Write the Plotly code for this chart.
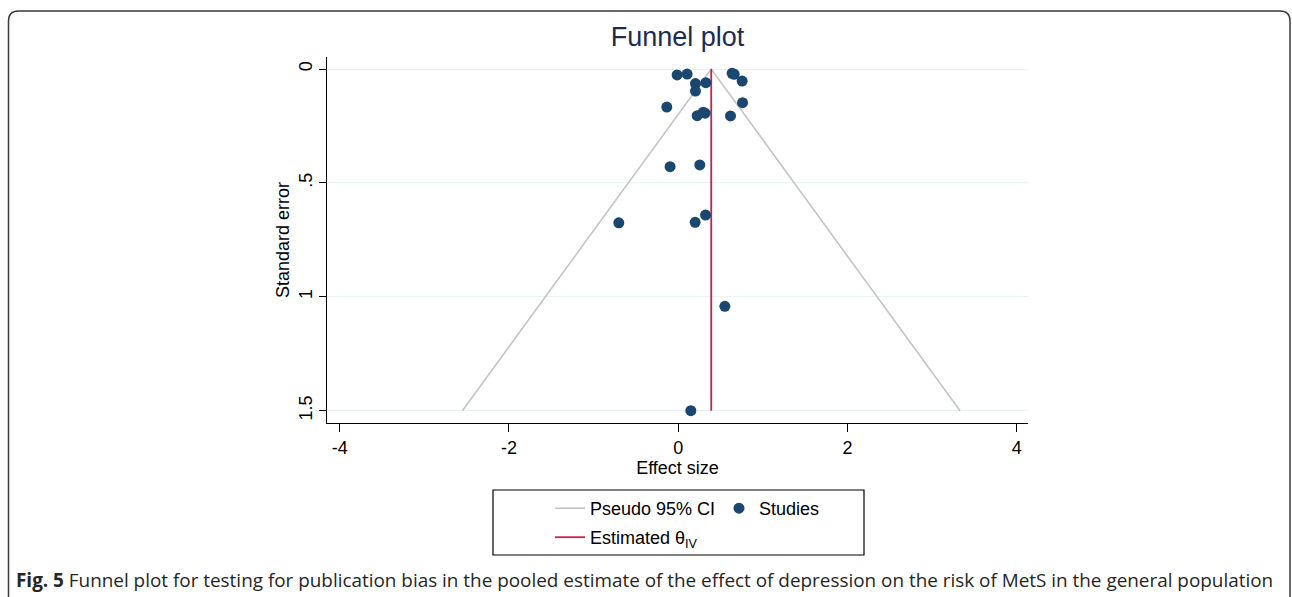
import plotly.graph_objects as go

# ---- data ----
effect_size = [-0.013, 0.105, 0.204, 0.326, 0.204, 0.637, 0.661, 0.755, 0.760, -0.135,
               0.224, 0.294, 0.318, 0.618, -0.096, 0.255, -0.702, 0.200, 0.323, 0.551, 0.149]
std_error = [0.026, 0.022, 0.064, 0.060, 0.097, 0.019, 0.023, 0.053, 0.148, 0.167,
             0.205, 0.190, 0.194, 0.206, 0.429, 0.421, 0.675, 0.673, 0.641, 1.042, 1.500]
theta_iv = 0.39
se_max = 1.5
ci_lower_at_max = -2.55
ci_upper_at_max = 3.33

x_ticks = [-4, -2, 0, 2, 4]
x_tick_text = ["-4", "-2", "0", "2", "4"]
y_ticks = [0, 0.5, 1, 1.5]
y_tick_text = ["0", ".5", "1", "1.5"]

caption = ("<b>Fig. 5</b> Funnel plot for testing for publication bias in the pooled estimate "
           "of the effect of depression on the risk of MetS in the general population")

# ---- geometry (pixels) ----
W, H = 1292, 597
L, R, T, B = 327, 264, 57, 174
PW, PH = W - L - R, H - T - B


def px_x(p):
    return (p - L) / PW


def px_y(p):
    return (H - B - p) / PH


FONT = "Liberation Sans, Arial, sans-serif"

fig = go.Figure()

fig.add_trace(go.Scatter(
    x=[ci_lower_at_max, theta_iv, ci_upper_at_max],
    y=[se_max, 0, se_max],
    mode="lines", line=dict(color="#c4c4c4", width=1.6),
    name="Pseudo 95% CI", legend="legend", hoverinfo="skip"))

fig.add_trace(go.Scatter(
    x=[theta_iv, theta_iv], y=[0, se_max],
    mode="lines", line=dict(color="#c8214a", width=1.8),
    name="Estimated θ<sub>IV</sub>", legend="legend2"))

fig.add_trace(go.Scatter(
    x=effect_size, y=std_error, mode="markers",
    marker=dict(color="#1a476f", size=11),
    name="Studies", legend="legend"))

legend_common = dict(
    orientation="h", xanchor="left", yanchor="top",
    font=dict(family=FONT, size=18, color="#000000"),
    bgcolor="rgba(0,0,0,0)", borderwidth=0,
    entrywidth=124, tracegroupgap=0,
)

fig.update_layout(
    width=W, height=H,
    margin=dict(l=L, r=R, t=T, b=B, autoexpand=False),
    paper_bgcolor="white", plot_bgcolor="white",
    font=dict(family=FONT, color="#000000"),
    title=dict(text="Funnel plot", x=0.5, xref="paper", xanchor="center",
               y=1 - 37 / H, yref="container", yanchor="middle",
               font=dict(family=FONT, size=27, color="#1e2b52")),
    xaxis=dict(range=[-4.15, 4.133], tickvals=x_ticks, ticktext=x_tick_text,
               showgrid=False, zeroline=False,
               showline=True, linecolor="#000000", linewidth=1.3,
               ticks="outside", ticklen=8, tickwidth=1.3, tickcolor="#000000",
               tickfont=dict(family=FONT, size=18),
               title=dict(text="Effect size", font=dict(family=FONT, size=18), standoff=2)),
    yaxis=dict(range=[1.554, -0.0527], tickvals=y_ticks, ticktext=y_tick_text,
               tickangle=-90, showgrid=True, gridcolor="#eaf2f3", gridwidth=1.2,
               zeroline=False, showline=True, linecolor="#000000", linewidth=1.3,
               ticks="outside", ticklen=7, tickwidth=1.3, tickcolor="#000000",
               tickfont=dict(family=FONT, size=18),
               title=dict(text="Standard error", font=dict(family=FONT, size=18), standoff=1)),
    legend=dict(x=px_x(550), y=px_y(490), **legend_common),
    legend2=dict(x=px_x(550), y=px_y(519), **legend_common),
    showlegend=True,
)

# legend frame
fig.add_shape(type="rect", xref="paper", yref="paper",
              x0=px_x(493), x1=px_x(864), y0=px_y(555), y1=px_y(490),
              line=dict(color="#000000", width=1.2), fillcolor="rgba(0,0,0,0)")

# outer rounded card frame
rx, ry = 10 / PW, 10 / PH
xl, xr = px_x(8.5), px_x(1290)
yt, yb = px_y(11), px_y(605)
path = (f"M {xl},{yb} L {xl},{yt - ry} Q {xl},{yt} {xl + rx},{yt} "
        f"L {xr - rx},{yt} Q {xr},{yt} {xr},{yt - ry} L {xr},{yb}")
fig.add_shape(type="path", xref="paper", yref="paper", path=path,
              line=dict(color="#3a3a3a", width=1.5))

fig.add_annotation(text=caption, xref="paper", yref="paper",
                   x=px_x(14), y=px_y(580), xanchor="left", yanchor="middle",
                   showarrow=False,
                   font=dict(family="Open Sans, sans-serif", size=18.9, color="#262626"))

fig.write_html("out.html")
